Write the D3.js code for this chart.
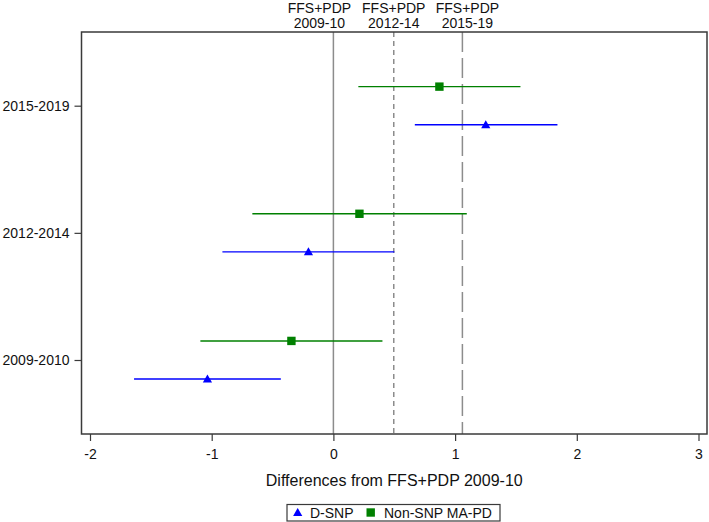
<!DOCTYPE html>
<html>
<head>
<meta charset="utf-8">
<script src="https://cdn.jsdelivr.net/npm/d3@7"></script>
<style>
  html, body { margin: 0; padding: 0; background: #fff; }
  svg { display: block; font-family: "Liberation Sans", Arial, sans-serif; }
</style>
</head>
<body>
<svg id="chart" width="709" height="522"></svg>
<script>
// ---- Data ----
const periods = ["2009-2010", "2012-2014", "2015-2019"];
const periodPos = [1, 2, 3];
const dsnpEst = [-1.035, -0.205, 1.252];
const dsnpLo  = [-1.638, -0.912, 0.669];
const dsnpHi  = [-0.432, 0.501, 1.841];
const nonEst  = [-0.345, 0.214, 0.871];
const nonLo   = [-1.093, -0.666, 0.205];
const nonHi   = [0.403, 1.096, 1.537];
const refValues = [0, 0.496, 1.06];
const refLine1 = ["FFS+PDP", "FFS+PDP", "FFS+PDP"];
const refLine2 = ["2009-10", "2012-14", "2015-19"];
const xTicks = [-2, -1, 0, 1, 2, 3];
const xTickLabels = ["-2", "-1", "0", "1", "2", "3"];
const seriesNames = ["D-SNP", "Non-SNP MA-PD"];
const xTitle = "Differences from FFS+PDP 2009-10";

// ---- Layout ----
const svg = d3.select("#chart");
const pL = 81.5, pR = 707, pT = 32, pB = 434;
const x = d3.scaleLinear().domain([-2, 3]).range([90, 698.5]);
const y = d3.scaleLinear().domain([1, 3]).range([360, 105.7]);
const offset = 0.15;
const blue = "#0000ff", green = "#008000";

// reference lines
const refStyles = [null, "5,4", "20,6"];
refValues.forEach((v, i) => {
  svg.append("line")
    .attr("x1", x(v)).attr("x2", x(v))
    .attr("y1", pT).attr("y2", pB)
    .attr("stroke", "#8c8c8c").attr("stroke-width", 1.5)
    .attr("stroke-dasharray", refStyles[i]);
});

// top reference labels
const labelShift = [-14, 0, 5];
refValues.forEach((v, i) => {
  const t = svg.append("text")
    .attr("x", x(v) + labelShift[i]).attr("text-anchor", "middle")
    .attr("font-size", 14).attr("fill", "#111");
  t.append("tspan").attr("x", x(v) + labelShift[i]).attr("y", 12.5).text(refLine1[i]);
  t.append("tspan").attr("x", x(v) + labelShift[i]).attr("y", 28).text(refLine2[i]);
});

// error bars
function drawSeries(est, lo, hi, dy, color, shape) {
  const g = svg.append("g");
  periods.forEach((p, i) => {
    const yy = y(periodPos[i] + dy);
    g.append("line")
      .attr("x1", x(lo[i])).attr("x2", x(hi[i]))
      .attr("y1", yy).attr("y2", yy)
      .attr("stroke", color).attr("stroke-width", 1.4);
    const cx = x(est[i]);
    if (shape === "tri") {
      g.append("path")
        .attr("d", `M${cx},${yy - 4.6} L${cx + 4.6},${yy + 3.4} L${cx - 4.6},${yy + 3.4} Z`)
        .attr("fill", color);
    } else {
      g.append("rect")
        .attr("x", cx - 4.2).attr("y", yy - 4.2)
        .attr("width", 8.4).attr("height", 8.4)
        .attr("fill", color);
    }
  });
}
drawSeries(nonEst, nonLo, nonHi, offset, green, "sq");
drawSeries(dsnpEst, dsnpLo, dsnpHi, -offset, blue, "tri");

// frame
svg.append("rect")
  .attr("x", pL).attr("y", pT)
  .attr("width", pR - pL).attr("height", pB - pT)
  .attr("fill", "none").attr("stroke", "#3a3a3a").attr("stroke-width", 1.5);

// x axis
const xAxis = d3.axisBottom(x).tickValues(xTicks).tickSize(7).tickPadding(8)
  .tickFormat(d => xTickLabels[xTicks.indexOf(d)]);
const gx = svg.append("g").attr("transform", `translate(0,${pB})`).call(xAxis);
gx.select(".domain").remove();
gx.selectAll(".tick line").attr("stroke", "#3a3a3a").attr("stroke-width", 1.2);
gx.selectAll(".tick text").attr("font-size", 14).attr("font-family", "Liberation Sans, Arial, sans-serif").attr("fill", "#111");

// y axis
const yAxis = d3.axisLeft(y).tickValues(periodPos).tickSize(7).tickPadding(5)
  .tickFormat(d => periods[periodPos.indexOf(d)]);
const gy = svg.append("g").attr("transform", `translate(${pL},0)`).call(yAxis);
gy.select(".domain").remove();
gy.selectAll(".tick line").attr("stroke", "#3a3a3a").attr("stroke-width", 1.2);
gy.selectAll(".tick text").attr("font-size", 14).attr("font-family", "Liberation Sans, Arial, sans-serif").attr("fill", "#111");

// x title
svg.append("text")
  .attr("x", (pL + pR) / 2).attr("y", 486)
  .attr("text-anchor", "middle").attr("font-size", 16).attr("fill", "#111")
  .text(xTitle);

// legend
const lg = svg.append("g");
lg.append("rect").attr("x", 287).attr("y", 504.5).attr("width", 213).attr("height", 16.5)
  .attr("fill", "#fff").attr("stroke", "#3a3a3a").attr("stroke-width", 1.2);
const ly = 512.5;
lg.append("path")
  .attr("d", `M297.7,${ly - 4.6} L302.3,${ly + 3.4} L293.1,${ly + 3.4} Z`)
  .attr("fill", blue);
lg.append("text").attr("x", 310).attr("y", 517.5).attr("font-size", 14).attr("fill", "#111").text(seriesNames[0]);
lg.append("rect").attr("x", 366.5).attr("y", ly - 4.2).attr("width", 8.4).attr("height", 8.4).attr("fill", green);
lg.append("text").attr("x", 384).attr("y", 517.5).attr("font-size", 14).attr("fill", "#111").text(seriesNames[1]);
</script>
</body>
</html>
